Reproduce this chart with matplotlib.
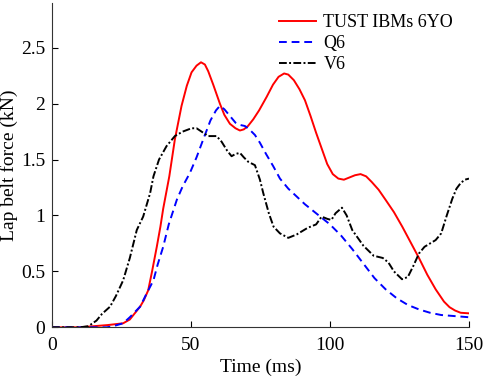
import matplotlib
matplotlib.use("Agg")
import matplotlib.pyplot as plt

# TUST IBMs 6YO
t_tust = [0, 10, 15, 20, 25.6, 28, 31.7, 33, 34.6, 36, 37.7, 39, 40, 42.2, 44.2, 46.6, 48.5, 50.2, 52, 53.6, 55, 56.2, 58, 60.4, 62, 64, 66, 67.6, 69, 70.5, 72.4, 74.5, 77.2, 79.5, 81.5, 83.5, 85, 87, 89, 91, 93, 95, 97, 99, 101, 103, 105, 107, 109, 111, 113, 115, 117.5, 120, 123, 126, 129, 132, 135, 138, 141, 143, 145, 147, 150]
f_tust = [0, 0, 0.01, 0.02, 0.036, 0.07, 0.185, 0.24, 0.33, 0.5, 0.72, 0.9, 1.06, 1.35, 1.68, 1.98, 2.16, 2.28, 2.34, 2.37, 2.35, 2.29, 2.17, 2.0, 1.9, 1.82, 1.78, 1.76, 1.77, 1.8, 1.86, 1.94, 2.06, 2.17, 2.24, 2.27, 2.26, 2.21, 2.13, 2.03, 1.89, 1.74, 1.6, 1.46, 1.37, 1.33, 1.32, 1.34, 1.36, 1.37, 1.35, 1.3, 1.23, 1.14, 1.03, 0.9, 0.76, 0.62, 0.47, 0.34, 0.23, 0.18, 0.15, 0.13, 0.125]

# Q6
t_q6 = [0, 10, 15, 19.7, 22, 25.6, 28, 31.7, 34, 36.5, 38, 40, 42, 44.9, 47, 49.6, 52, 54.4, 57, 59, 60.4, 62, 64, 66, 67.6, 69.4, 71, 73, 74.8, 77, 79.6, 82, 85, 88, 91, 94, 97, 100, 104, 108, 112, 116, 120, 124, 128, 132, 136, 140, 145, 150]
f_q6 = [0, 0, 0, 0.0, 0.01, 0.036, 0.09, 0.185, 0.3, 0.42, 0.56, 0.72, 0.92, 1.14, 1.26, 1.38, 1.52, 1.68, 1.85, 1.94, 1.98, 1.95, 1.89, 1.83, 1.81, 1.8, 1.77, 1.72, 1.65, 1.55, 1.44, 1.33, 1.24, 1.17, 1.1, 1.04, 0.98, 0.92, 0.82, 0.7, 0.57, 0.44, 0.34, 0.26, 0.2, 0.16, 0.13, 0.11, 0.1, 0.09]

# V6
t_v6 = [0, 10, 13.1, 16, 18, 20.9, 23, 25.6, 28, 30.5, 32.8, 35.3, 36.5, 38.5, 41.2, 44.2, 47, 50.2, 52, 54.4, 56.2, 58, 59.2, 61, 63, 64.6, 66, 67.6, 69, 70.6, 73, 74.8, 76, 78, 79.7, 82, 85, 88, 92, 95, 97, 99, 100.5, 102, 104.3, 106, 108, 110, 112, 115.7, 119, 121, 123, 125.9, 128, 130, 132, 134, 136, 138, 140, 142, 144, 145.5, 147, 148.5, 150]
f_v6 = [0, 0, 0.01, 0.06, 0.12, 0.185, 0.28, 0.42, 0.62, 0.87, 0.99, 1.2, 1.35, 1.5, 1.62, 1.71, 1.75, 1.78, 1.78, 1.74, 1.71, 1.71, 1.71, 1.66, 1.58, 1.53, 1.55, 1.56, 1.52, 1.48, 1.45, 1.32, 1.2, 1.02, 0.9, 0.84, 0.8, 0.83, 0.89, 0.92, 0.99, 0.97, 0.96, 1.02, 1.07, 1.0, 0.87, 0.8, 0.73, 0.64, 0.62, 0.58, 0.5, 0.43, 0.45, 0.55, 0.66, 0.72, 0.75, 0.78, 0.84, 1.0, 1.15, 1.24, 1.29, 1.32, 1.33]

labels = ["TUST IBMs 6YO", "Q6", "V6"]
xticks = [0, 50, 100, 150]
yticks = [0, 0.5, 1, 1.5, 2, 2.5]
yticklabels = ["0", "0.5", "1", "1.5", "2", "2.5"]

plt.rcParams['font.family'] = ['Liberation Serif', 'DejaVu Serif']
fig = plt.figure(figsize=(4.84, 3.77), dpi=100)
ax = fig.add_axes([0.1074, 0.1318, 0.969 - 0.1074, 0.992 - 0.1318])

ax.plot(t_tust, f_tust, color='#ff0000', lw=1.4, ls='-', label=labels[0])
ax.plot(t_q6, f_q6, color='#0000ff', lw=1.4, ls=(0, (4, 2.5)), label=labels[1])
ax.plot(t_v6, f_v6, color='black', lw=1.4, ls=(0, (4, 1.2, 1, 1.2)), label=labels[2])

ax.set_xlim(0, 150)
ax.set_ylim(0, 2.9)
ax.set_xticks(xticks)
ax.set_yticks(yticks)
ax.set_yticklabels(yticklabels)
ax.tick_params(direction='in', length=4, labelsize=14, width=0.8)
ax.tick_params(axis='x', pad=7)
ax.tick_params(axis='y', pad=5)
ax.spines['top'].set_visible(False)
ax.spines['right'].set_visible(False)
for s in ['left', 'bottom']:
    ax.spines[s].set_linewidth(0.8)
    ax.spines[s].set_color('#333333')
ax.set_xlabel('Time (ms)', fontsize=14, labelpad=3)
ax.set_ylabel('Lap belt force (kN)', fontsize=14)
ax.yaxis.set_label_coords(-0.082, 0.5)

ax.legend(loc='upper right', bbox_to_anchor=(0.962, 0.965), frameon=False, fontsize=13,
          handlelength=2.05, handletextpad=0.4, labelspacing=0.22, borderaxespad=0.0,
          borderpad=0.0)

fig.savefig('out.png', dpi=100)
